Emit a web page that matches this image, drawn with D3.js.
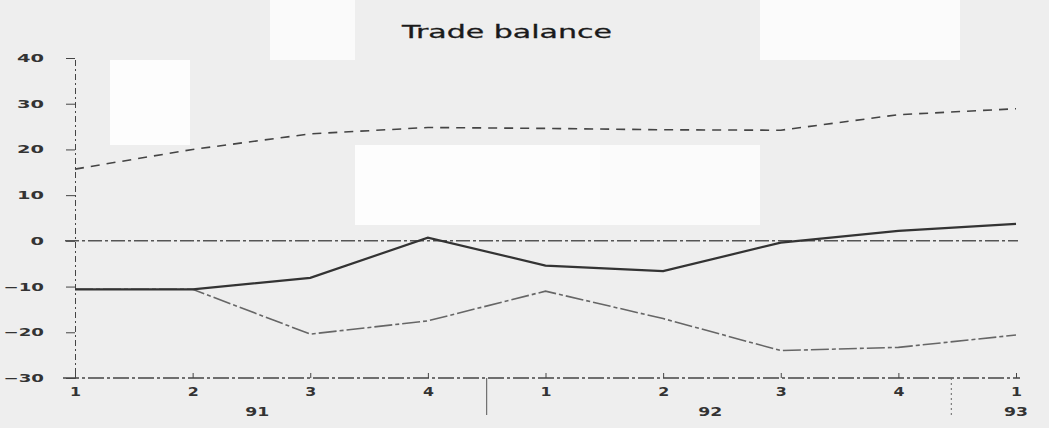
<!DOCTYPE html>
<html><head><meta charset="utf-8">
<script src="https://cdn.jsdelivr.net/npm/d3@7"></script>
<style>html,body{margin:0;padding:0;background:#eeeeee;}svg{display:block;}</style>
</head><body>
<svg id="c" width="1049" height="428"></svg>
<script>
const quarters = ["1","2","3","4","1","2","3","4","1"];
const years = ["91","92","93"];
const exportsS = [15.7, 20, 23.4, 24.8, 24.6, 24.3, 24.2, 27.6, 28.9];
const balance  = [-10.6, -10.6, -8.1, 0.7, -5.4, -6.6, -0.4, 2.2, 3.7];
const importsS = [-10.6, -10.6, -20.4, -17.5, -11, -17, -24, -23.3, -20.6];
const yTicks = [40,30,20,10,0,-10,-20,-30];

const svg = d3.select("#c");
const x = d3.scaleLinear().domain([0,8]).range([75,1016]);
const y = d3.scaleLinear().domain([-30,40]).range([378,58]);
const font = "DejaVu Sans, Verdana, sans-serif";

svg.append("rect").attr("width",1049).attr("height",428).attr("fill","#eeeeee");
const blocks=[[110,60,80,85,"#fdfdfd"],[270,0,85,60,"#fafafa"],[355,145,245,80,"#fdfdfd"],[600,145,160,80,"#fbfbfb"],[760,0,200,60,"#fbfbfb"]];
svg.selectAll("rect.b").data(blocks).join("rect").attr("class","b")
  .attr("x",d=>d[0]).attr("y",d=>d[1]).attr("width",d=>d[2]).attr("height",d=>d[3]).attr("fill",d=>d[4]);

svg.append("text").attr("x",507).attr("y",38).attr("text-anchor","middle")
  .attr("font-family",font).attr("font-size",18).attr("font-weight",500).attr("fill","#1a1a1a")
  .attr("stroke","#1a1a1a").attr("stroke-width",0.3)
  .attr("textLength",210).attr("lengthAdjust","spacingAndGlyphs").text("Trade balance");

function stretch(sel, per){
  sel.each(function(){ const t=d3.select(this); const s=t.text();
    const n = s.replace("-","").length + (s.includes("-")?0.7:0);
    t.attr("textLength", n*per).attr("lengthAdjust","spacingAndGlyphs"); });
}

// y axis
const yAxis = d3.axisLeft(y).tickValues(yTicks).tickSize(9).tickPadding(22).tickFormat(d3.format("d"));
const ga = svg.append("g").attr("transform","translate(75,0)").call(yAxis);
ga.select(".domain").attr("stroke","#444").attr("stroke-dasharray","6,3,2,3");
ga.selectAll(".tick line").attr("stroke","#444");
ga.selectAll(".tick text").attr("font-family",font).attr("font-size",11).attr("font-weight","bold").attr("fill","#333")
  .call(stretch,13.5);

// zero line
svg.append("line").attr("x1",65).attr("x2",1018).attr("y1",y(0)).attr("y2",y(0))
  .attr("stroke","#555").attr("stroke-width",1.5).attr("stroke-dasharray","14,3,3,3");
// x axis
const xAxis = d3.axisBottom(x).tickValues(d3.range(9)).tickSize(-5).tickPadding(14).tickFormat(i=>quarters[i]);
const gx = svg.append("g").attr("transform",`translate(0,${y(-30)})`).call(xAxis);
gx.select(".domain").remove();
svg.append("line").attr("x1",63).attr("x2",1020).attr("y1",y(-30)).attr("y2",y(-30))
  .attr("stroke","#444").attr("stroke-width",1.5).attr("stroke-dasharray","16,3,3,3");
gx.selectAll(".tick line").attr("stroke","#444");
gx.selectAll(".tick text").attr("font-family",font).attr("font-size",12).attr("font-weight","bold").attr("fill","#333")
  .attr("dy","0.3em").call(stretch,11);

// year separators and labels
svg.append("line").attr("x1",x(3.5)).attr("x2",x(3.5)).attr("y1",y(-30)).attr("y2",415).attr("stroke","#555");
svg.append("line").attr("x1",x(7.45)).attr("x2",x(7.45)).attr("y1",y(-30)).attr("y2",415).attr("stroke","#666").attr("stroke-dasharray","2,3");
const yearPos = [x(1.55), x(5.4), x(8)];
svg.selectAll("text.yr").data(years).join("text").attr("class","yr")
  .attr("x",(d,i)=>yearPos[i]).attr("y",416).attr("text-anchor","middle")
  .attr("font-family",font).attr("font-size",12).attr("font-weight","bold").attr("fill","#333")
  .attr("textLength",24).attr("lengthAdjust","spacingAndGlyphs").text(d=>d);

const line = d3.line().x((d,i)=>x(i)).y(d=>y(d));
svg.append("path").datum(importsS).attr("d",line).attr("fill","none")
  .attr("stroke","#666").attr("stroke-width",1.6).attr("stroke-dasharray","18,3,4,3");
svg.append("path").datum(balance).attr("d",line).attr("fill","none")
  .attr("stroke","#333").attr("stroke-width",2.2);
svg.append("path").datum(exportsS).attr("d",line).attr("fill","none")
  .attr("stroke","#444").attr("stroke-width",1.6).attr("stroke-dasharray","9,7");
</script>
</body></html>
